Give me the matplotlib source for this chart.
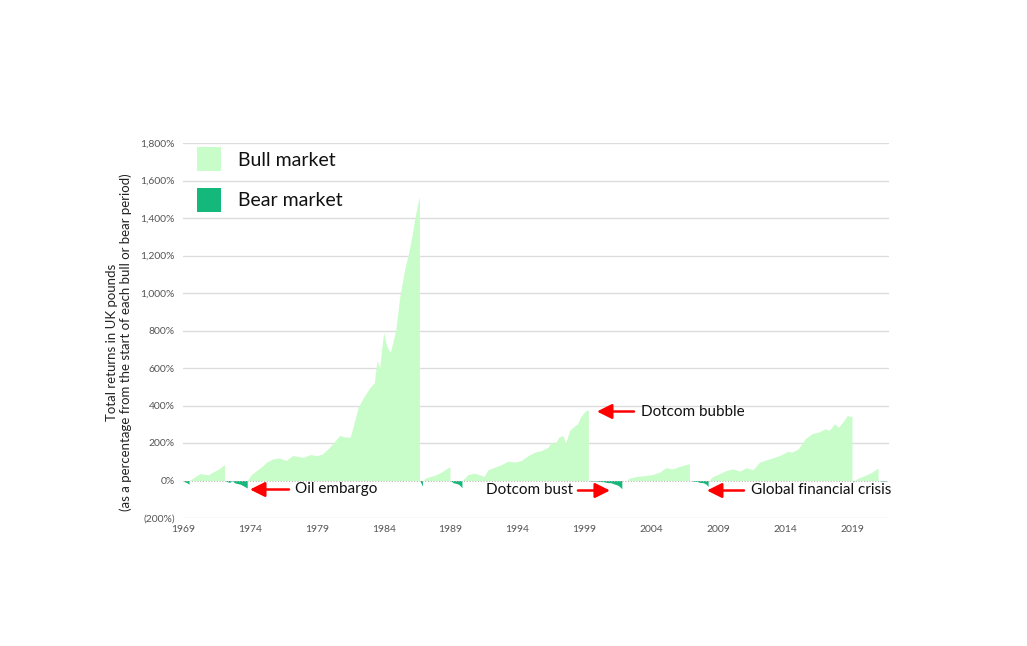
import matplotlib
matplotlib.use("Agg")
import matplotlib.pyplot as plt
from matplotlib.patches import Rectangle

plt.rcParams['font.family'] = ['Lato', 'DejaVu Sans']

# ---------------- data ----------------
bear_1969_years = [1969.0, 1969.15, 1969.3, 1969.45]
bear_1969_returns = [0, -8, -12, -20]

bull_1969_years = [1969.45, 1969.7, 1970.0, 1970.3, 1970.6, 1970.9, 1971.3, 1971.7, 1972.0, 1972.1]
bull_1969_returns = [0, 10, 25, 37, 33, 30, 48, 62, 80, 84]

bear_1972_years = [1972.15, 1972.35, 1972.5, 1972.6, 1972.7, 1972.85, 1973.0, 1973.3, 1973.5, 1973.7, 1973.8]
bear_1972_returns = [0, -8, -10, -3, -2, -12, -15, -20, -28, -36, -40]

bull_1974_years = [1973.8, 1974.1, 1974.5, 1974.9, 1975.25, 1975.7, 1976.2, 1976.7, 1977.2, 1977.6,
                   1978.0, 1978.5, 1979.0, 1979.4, 1979.7, 1980.2, 1980.7, 1981.1, 1981.5, 1981.7,
                   1982.1, 1982.5, 1983.0, 1983.3, 1983.5, 1983.7, 1983.85, 1984.0, 1984.2, 1984.5,
                   1984.9, 1985.2, 1985.6, 1985.8, 1986.1, 1986.3, 1986.5, 1986.67]
bull_1974_returns = [0, 30, 53, 75, 98, 115, 120, 107, 133, 128,
                     124, 138, 133, 140, 160, 196, 240, 232, 231, 284,
                     391, 444, 498, 520, 640, 600, 700, 791, 720, 684,
                     800, 978, 1138, 1191, 1298, 1387, 1460, 1515]

bear_1986_years = [1986.7, 1986.8, 1986.9]
bear_1986_returns = [0, -15, -30]

bull_1987_years = [1986.92, 1987.1, 1987.4, 1987.8, 1988.0, 1988.3, 1988.6, 1988.8, 1988.95]
bull_1987_returns = [0, 12, 20, 27, 34, 44, 58, 68, 72]

bear_1989_years = [1989.0, 1989.2, 1989.4, 1989.6, 1989.75, 1989.85]
bear_1989_returns = [0, -12, -15, -20, -30, -38]

bull_1990_years = [1989.88, 1990.0, 1990.3, 1990.8, 1991.3, 1991.5, 1991.8, 1992.3, 1992.8, 1993.3,
                   1993.8, 1994.3, 1994.8, 1995.3, 1995.8, 1996.3, 1996.5, 1996.8, 1997.1, 1997.4,
                   1997.6, 1997.9, 1998.3, 1998.5, 1998.7, 1999.0, 1999.2, 1999.3]
bull_1990_returns = [0, 9, 32, 39, 27, 21, 57, 71, 85, 103,
                     98, 107, 133, 151, 160, 178, 204, 196, 231, 240,
                     196, 267, 293, 302, 338, 364, 377, 372]

bear_1999_years = [1999.32, 1999.5, 1999.8, 2000.1, 2000.4, 2000.7, 2001.0, 2001.2, 2001.4, 2001.6, 2001.8]
bear_1999_returns = [0, -3, -2, -5, -6, -11, -12, -18, -22, -30, -44]

bull_2002_years = [2002.2, 2002.3, 2002.6, 2002.86, 2003.3, 2003.6, 2004.1, 2004.6, 2005.1, 2005.6, 2006.1, 2006.6, 2006.85]
bull_2002_returns = [0, 12, 16, 21, 24, 27, 32, 44, 68, 62, 75, 85, 89]

bear_2007_years = [2007.05, 2007.2, 2007.4, 2007.6, 2007.9, 2008.1, 2008.25]
bear_2007_returns = [0, -5, -4, -10, -12, -20, -32]

bull_2008_years = [2008.3, 2008.6, 2009.1, 2009.6, 2010.1, 2010.6, 2011.1, 2011.6, 2012.1, 2012.6,
                   2013.1, 2013.6, 2014.2, 2014.5, 2015.0, 2015.5, 2016.0, 2016.5, 2017.0, 2017.3,
                   2017.7, 2018.0, 2018.4, 2018.65, 2018.9, 2019.0]
bull_2008_returns = [0, 21, 36, 53, 62, 50, 68, 57, 98, 110,
                     121, 133, 156, 151, 169, 222, 249, 258, 276, 267,
                     302, 284, 320, 347, 341, 345]

bear_2019_years = [2019.02, 2019.08, 2019.15]
bear_2019_returns = [0, -8, -5]

bull_2019_years = [2019.17, 2019.5, 2020.0, 2020.5, 2020.85, 2020.95]
bull_2019_returns = [0, 14, 27, 44, 62, 65]

bear_2021_years = [2021.0, 2021.3, 2021.6]
bear_2021_returns = [0, -3, -2]

bull_periods = [(bull_1969_years, bull_1969_returns), (bull_1974_years, bull_1974_returns),
                (bull_1987_years, bull_1987_returns), (bull_1990_years, bull_1990_returns),
                (bull_2002_years, bull_2002_returns), (bull_2008_years, bull_2008_returns),
                (bull_2019_years, bull_2019_returns)]
bear_periods = [(bear_1969_years, bear_1969_returns), (bear_1972_years, bear_1972_returns),
                (bear_1986_years, bear_1986_returns), (bear_1989_years, bear_1989_returns),
                (bear_1999_years, bear_1999_returns), (bear_2007_years, bear_2007_returns),
                (bear_2019_years, bear_2019_returns), (bear_2021_years, bear_2021_returns)]

x_ticks = [1969, 1974, 1979, 1984, 1989, 1994, 1999, 2004, 2009, 2014, 2019]
y_ticks = [-200, 0, 200, 400, 600, 800, 1000, 1200, 1400, 1600, 1800]
y_tick_labels = ['(200%)', '0%', '200%', '400%', '600%', '800%', '1,000%', '1,200%', '1,400%', '1,600%', '1,800%']

BULL = '#c8fcc8'
BEAR = '#14b87a'

# ---------------- figure ----------------
W, H = 1027, 646
fig = plt.figure(figsize=(W / 100, H / 100), dpi=100)
ax = fig.add_axes([183 / W, 1 - 518 / H, (889 - 183) / W, (518 - 143) / H])

for xs, ys in bull_periods:
    ax.fill_between(xs, 0, ys, color=BULL, lw=0, zorder=2)
for xs, ys in bear_periods:
    ax.fill_between(xs, 0, ys, color=BEAR, lw=0, zorder=2)

ax.set_xlim(1969, 2021.77)
ax.set_ylim(-200, 1800)
ax.set_yticks(y_ticks)
ax.set_yticklabels(y_tick_labels)
ax.set_xticks(x_ticks)
ax.set_xticklabels([str(t) for t in x_ticks])
ax.tick_params(axis='both', length=0, labelsize=7.5, labelcolor='#555555')
ax.tick_params(axis='y', pad=6)
ax.tick_params(axis='x', pad=5)
for s in ax.spines.values():
    s.set_visible(False)
for yv in y_ticks:
    if yv == 0:
        continue
    ax.axhline(yv, color='#dcdcdc', lw=1, zorder=1)
ax.axhline(0, color='#bbbbbb', lw=0.8, ls=(0, (1, 1.5)), zorder=3)

fig.text(119 / W, 1 - 342 / H,
         'Total returns in UK pounds\n(as a percentage from the start of each bull or bear period)',
         rotation=90, ha='center', va='center', multialignment='center',
         fontsize=9.5, color='#222222', linespacing=1.15)

# legend
fig.patches.append(Rectangle((197 / W, 1 - 171 / H), 24 / W, 24 / H, transform=fig.transFigure,
                             facecolor=BULL, edgecolor='none'))
fig.patches.append(Rectangle((197 / W, 1 - 212 / H), 24 / W, 24 / H, transform=fig.transFigure,
                             facecolor=BEAR, edgecolor='none'))
fig.text(238 / W, 1 - 160 / H, 'Bull market', fontsize=14, va='center', ha='left', color='#111111')
fig.text(238 / W, 1 - 201 / H, 'Bear market', fontsize=14, va='center', ha='left', color='#111111')

# annotations
def px2data(px, py):
    return 1969 + (px - 183) / 13.38, (480 - py) * 200 / 37.5

arrow = dict(arrowstyle='-|>,head_length=0.9,head_width=0.45', color='#ff0000', lw=1.8,
             shrinkA=0, shrinkB=0)

def note(text, text_px, head_px, tail_px, py, ha='left'):
    ax.annotate('', xy=px2data(head_px, py), xytext=px2data(tail_px, py), arrowprops=arrow, zorder=5)
    ax.text(*px2data(text_px, py), text, fontsize=11, va='center', ha=ha, color='#111111', zorder=5)

note('Oil embargo', 295, 250, 289, 489)
note('Dotcom bubble', 641, 597, 634, 411)
note('Dotcom bust', 573, 610, 578, 490, ha='right')
note('Global financial crisis', 751, 707, 744, 490)

fig.savefig('out.png', dpi=100, facecolor='white')
